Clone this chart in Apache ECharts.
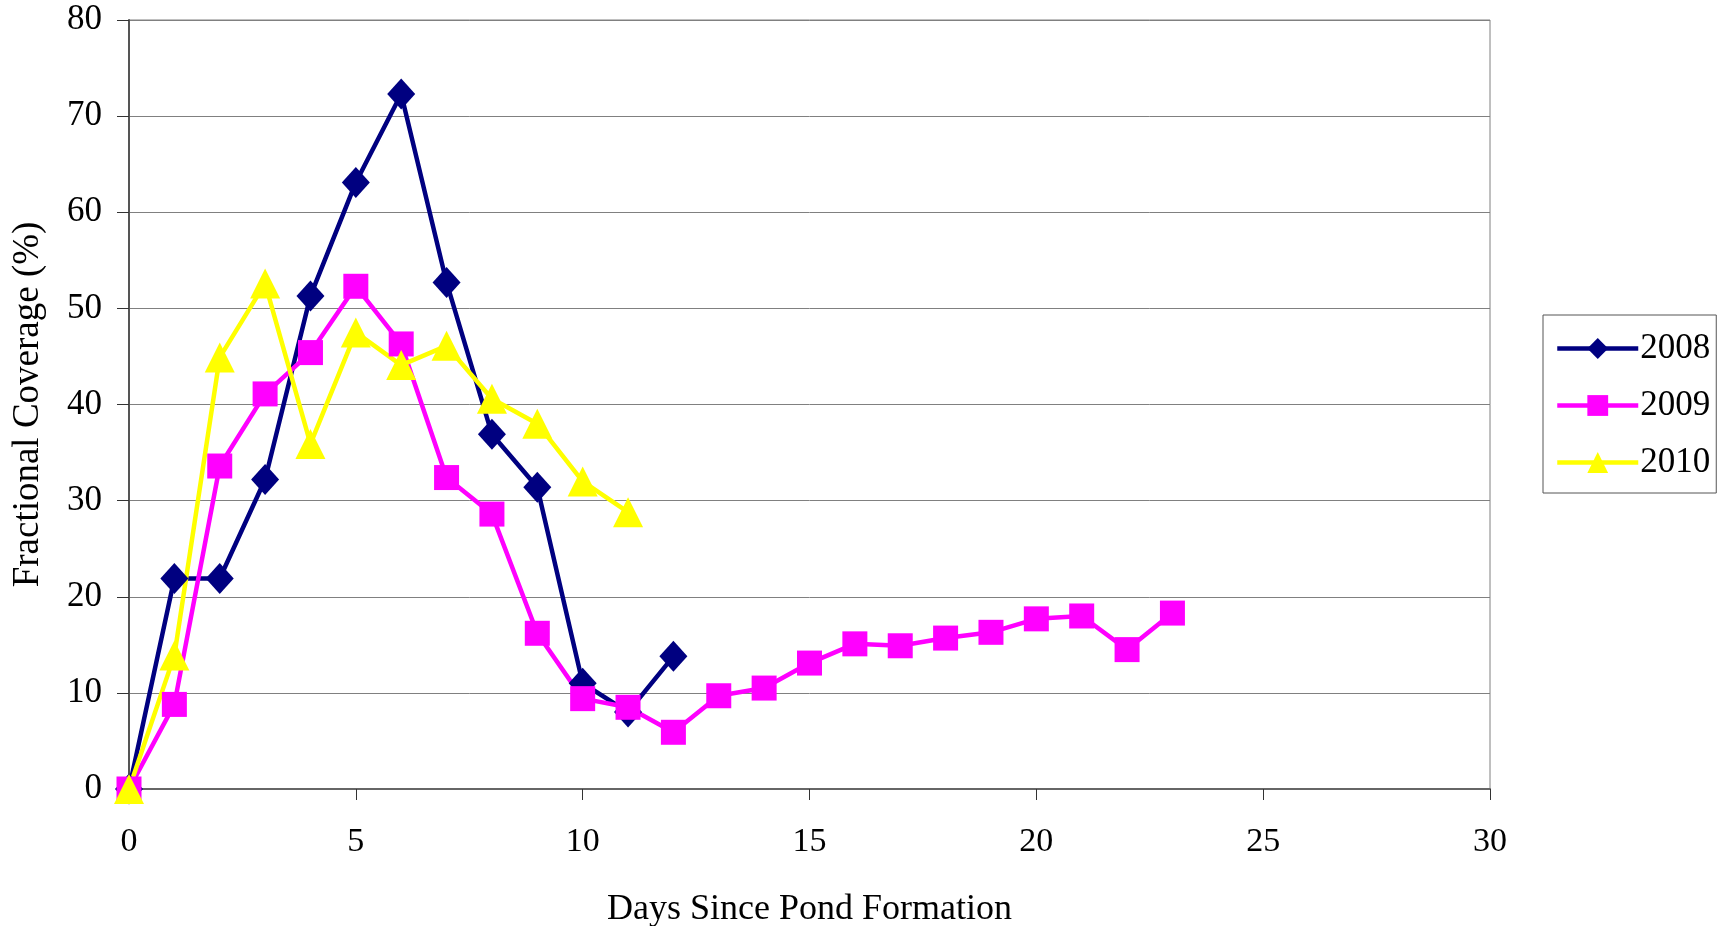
<!DOCTYPE html>
<html>
<head>
<meta charset="utf-8">
<script src="https://cdn.jsdelivr.net/npm/echarts@6/dist/echarts.min.js"></script>
<style>
html,body{margin:0;padding:0;background:#fff;}
#chart{width:1725px;height:926px;}
</style>
</head>
<body>
<div id="chart"></div>
<script>
const days2008 = [0,1,2,3,4,5,6,7,8,9,10,11,12];
const cov2008  = [0,21.9,21.9,32.2,51.3,63.1,72.3,52.7,36.9,31.4,11.0,8.0,13.8];

const days2009 = [0,1,2,3,4,5,6,7,8,9,10,11,12,13,14,15,16,17,18,19,20,21,22,23];
const cov2009  = [0,8.8,33.6,41.1,45.4,52.3,46.3,32.4,28.6,16.2,9.4,8.5,5.9,9.7,10.5,13.1,15.1,14.9,15.7,16.3,17.7,18.0,14.5,18.3];

const days2010 = [0,1,2,3,4,5,6,7,8,9,10,11];
const cov2010  = [0,13.9,44.9,52.6,35.9,47.5,44.1,46.1,40.6,38.0,32.0,28.8];

const seriesNames = ['2008','2009','2010'];
const xTicks = [0,5,10,15,20,25,30];
const yTicks = [0,10,20,30,40,50,60,70,80];

const FONT = 'Liberation Serif';
function pairs(xs, ys){ return xs.map((x,i)=>[x, ys[i]]); }

const chart = echarts.init(document.getElementById('chart'));
chart.setOption({
  backgroundColor: '#fff',
  animation: false,
  textStyle: { fontFamily: FONT, color: '#000' },
  grid: { left: 129, right: 235, top: 20, bottom: 137, show: true, borderColor: '#808080', borderWidth: 1,
          outerBoundsMode: 'none', containLabel: false },
  legend: {
    orient: 'vertical',
    left: 1543, top: 315,
    padding: [16, 6, 13, 12],
    itemGap: 22,
    itemWidth: 81, itemHeight: 26,
    borderColor: '#555', borderWidth: 1,
    lineStyle: { width: 4.5 },
    textStyle: { fontFamily: FONT, fontSize: 35, color: '#000', lineHeight: 32, padding: [0,0,0,-3] },
    data: seriesNames
  },
  xAxis: {
    type: 'value', min: xTicks[0], max: xTicks[xTicks.length-1], interval: 5,
    name: 'Days Since Pond Formation', nameLocation: 'middle', nameGap: 103,
    nameTextStyle: { fontFamily: FONT, fontSize: 36, color: '#000' },
    axisLine: { show: true, lineStyle: { color: '#666', width: 2 } },
    axisTick: { show: true, length: 11, lineStyle: { color: '#333', width: 1 } },
    axisLabel: { fontFamily: FONT, fontSize: 34, color: '#000', margin: 36 },
    splitLine: { show: false }
  },
  yAxis: {
    type: 'value', min: yTicks[0], max: yTicks[yTicks.length-1], interval: 10,
    name: 'Fractional Coverage (%)', nameLocation: 'middle', nameGap: 82,
    nameTextStyle: { fontFamily: FONT, fontSize: 37, color: '#000' },
    axisLine: { show: true, lineStyle: { color: '#555', width: 2 } },
    axisTick: { show: true, length: 12, lineStyle: { color: '#333', width: 1 } },
    axisLabel: { fontFamily: FONT, fontSize: 35, color: '#000', margin: 27 },
    splitLine: { show: true, lineStyle: { color: '#808080', width: 1 } }
  },
  series: [
    { name: seriesNames[0], type: 'line', data: pairs(days2008, cov2008),
      symbol: 'diamond', symbolSize: [28, 31],
      lineStyle: { color: '#000080', width: 4.5 }, itemStyle: { color: '#000080' } },
    { name: seriesNames[1], type: 'line', data: pairs(days2009, cov2009),
      symbol: 'rect', symbolSize: [25, 25],
      lineStyle: { color: '#ff00ff', width: 4.5 }, itemStyle: { color: '#ff00ff' } },
    { name: seriesNames[2], type: 'line', data: pairs(days2010, cov2010),
      symbol: 'triangle', symbolSize: [30, 30],
      lineStyle: { color: '#ffff00', width: 4.5 }, itemStyle: { color: '#ffff00' } }
  ]
});
</script>
</body>
</html>
